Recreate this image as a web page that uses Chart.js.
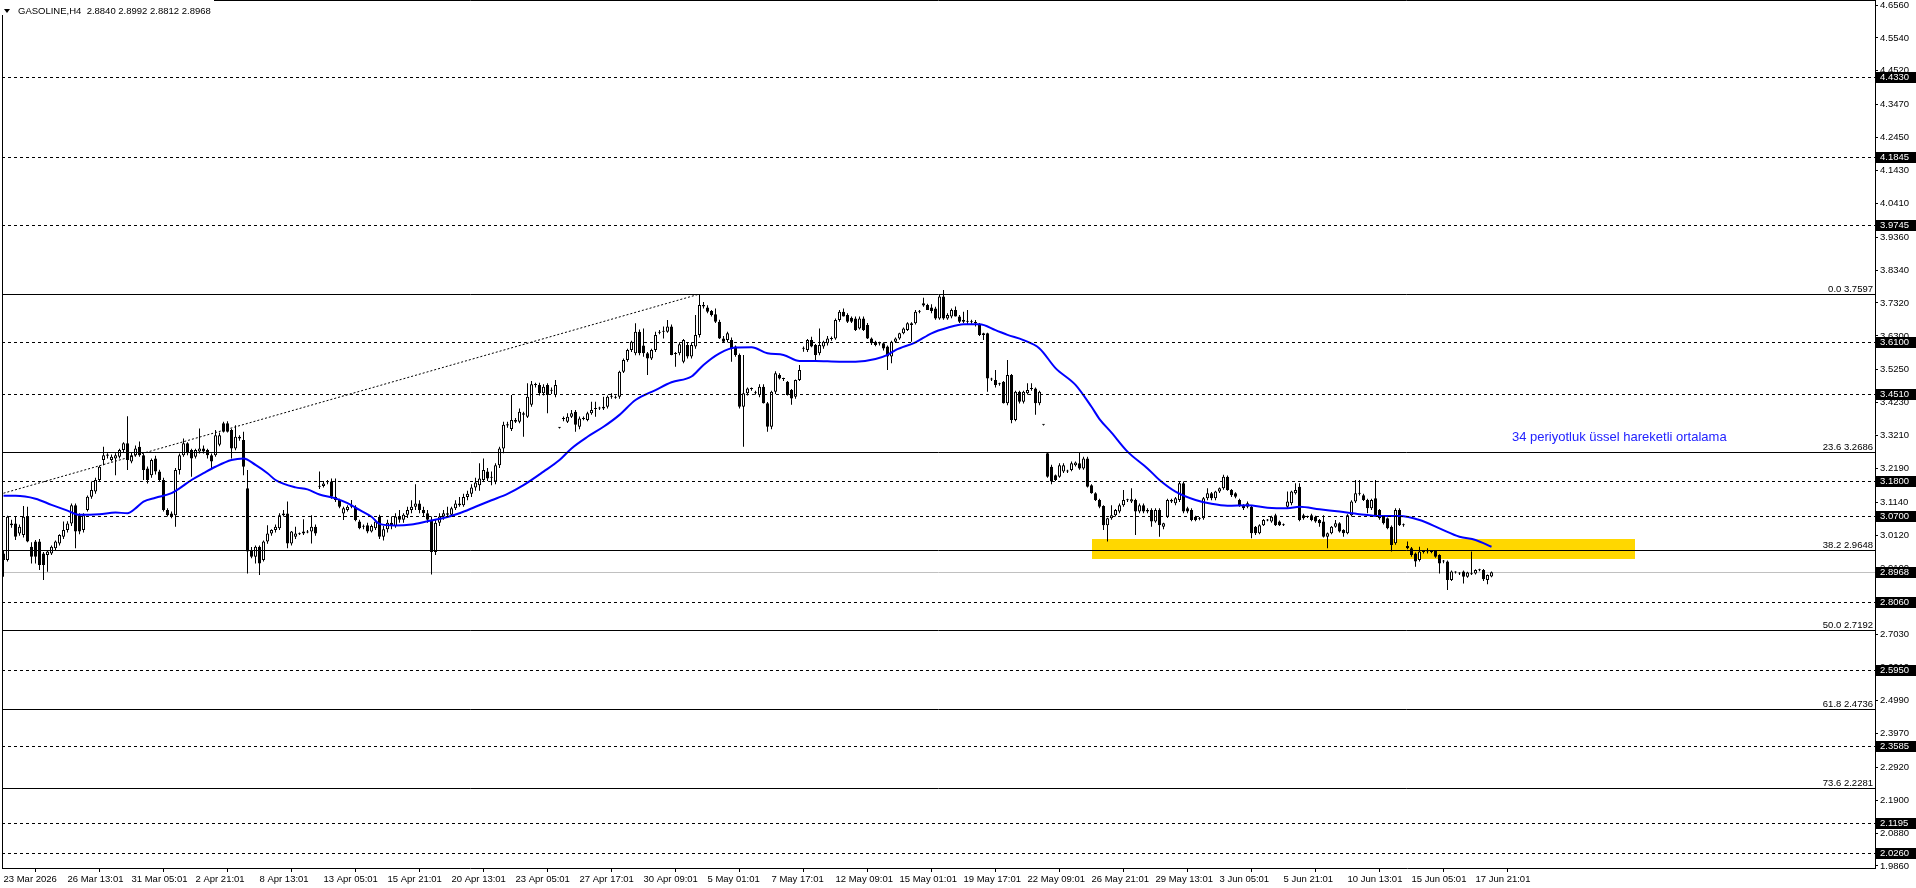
<!DOCTYPE html>
<html><head><meta charset="utf-8">
<script src="https://cdn.jsdelivr.net/npm/chart.js@4/dist/chart.umd.min.js"></script>
<style>html,body{margin:0;padding:0;background:#fff;overflow:hidden}#wrap{width:1916px;height:888px;position:relative}canvas{display:block}</style>
</head><body><div id="wrap"><canvas id="c" width="1916" height="888"></canvas></div>
<script>
// ---------------- DATA ----------------
const headerText = 'GASOLINE,H4  2.8840 2.8992 2.8812 2.8968';
const emaNote = '34 periyotluk üssel hareketli ortalama';
const dateLabels = ['23 Mar 2026','26 Mar 13:01','31 Mar 05:01','2 Apr 21:01','8 Apr 13:01','13 Apr 05:01','15 Apr 21:01','20 Apr 13:01','23 Apr 05:01','27 Apr 17:01','30 Apr 09:01','5 May 01:01','7 May 17:01','12 May 09:01','15 May 01:01','19 May 17:01','22 May 09:01','26 May 21:01','29 May 13:01','3 Jun 05:01','5 Jun 21:01','10 Jun 13:01','15 Jun 05:01','17 Jun 21:01'];
const dateLabelBars = [0,16,32,48,64,80,96,112,128,144,160,176,192,208,224,240,256,272,288,304,320,336,352,368];
const priceTicks = [4.6560,4.5540,4.4520,4.3470,4.2450,4.1430,4.0410,3.9360,3.8340,3.7320,3.6300,3.5250,3.4230,3.3210,3.2190,3.1140,3.0120,2.9100,2.8060,2.7030,2.6010,2.4990,2.3970,2.2920,2.1900,2.0880,1.9860];
const priceMin = 1.9795, priceMax = 4.6718;
const barMin = -0.375, barMax = 467.875;

const open = [
2.955,2.935,3.043,3.048,3.017,3.012,3.069,2.976,2.992,2.992,
2.955,2.950,2.955,2.971,2.986,3.007,3.028,3.048,3.105,3.074,
3.028,3.090,3.131,3.147,3.183,3.245,3.258,3.245,3.250,3.255,
3.276,3.297,3.240,3.260,3.286,3.260,3.219,3.198,3.250,3.209,
3.183,3.090,3.079,3.074,3.214,3.260,3.297,3.276,3.255,3.271,
3.281,3.276,3.260,3.260,3.292,3.359,3.359,3.338,3.281,3.312,
3.307,3.157,2.966,2.945,2.976,2.935,2.992,3.017,3.028,3.033,
3.074,3.079,2.986,3.007,3.017,3.017,3.023,3.023,3.038,3.162,
3.164,3.176,3.178,3.131,3.121,3.079,3.090,3.105,3.100,3.054,
3.040,3.043,3.023,3.033,3.069,3.007,3.030,3.050,3.040,3.070,
3.060,3.075,3.090,3.100,3.110,3.090,3.080,3.060,2.960,3.050,
3.070,3.080,3.075,3.095,3.110,3.105,3.130,3.140,3.160,3.167,
3.183,3.209,3.190,3.178,3.229,3.281,3.352,3.341,3.369,3.364,
3.385,3.379,3.416,3.478,3.478,3.452,3.478,3.460,3.447,3.345,
3.372,3.364,3.379,3.395,3.348,3.372,3.369,3.390,3.403,3.405,
3.405,3.410,3.441,3.440,3.441,3.519,3.555,3.586,3.576,3.643,
3.600,3.576,3.560,3.586,3.640,3.643,3.643,3.659,3.574,3.576,
3.550,3.602,3.566,3.597,3.633,3.721,3.718,3.707,3.697,3.674,
3.622,3.617,3.617,3.597,3.571,3.410,3.452,3.465,3.455,3.447,
3.472,3.421,3.348,3.457,3.509,3.497,3.488,3.462,3.441,3.493,
3.591,3.586,3.617,3.602,3.576,3.597,3.607,3.620,3.622,3.679,
3.705,3.695,3.686,3.684,3.653,3.684,3.664,3.622,3.612,3.607,
3.607,3.597,3.566,3.612,3.622,3.638,3.648,3.664,3.669,3.705,
3.731,3.726,3.718,3.715,3.684,3.752,3.684,3.690,3.710,3.690,
3.679,3.675,3.672,3.672,3.664,3.638,3.638,3.497,3.493,3.481,
3.488,3.421,3.509,3.369,3.457,3.426,3.452,3.465,3.467,3.421,
3.354,3.266,3.224,3.198,3.193,3.209,3.212,3.214,3.229,3.235,
3.219,3.250,3.167,3.142,3.121,3.102,3.043,3.064,3.074,3.085,
3.105,3.120,3.116,3.121,3.085,3.105,3.090,3.090,3.054,3.090,
3.038,3.069,3.116,3.111,3.121,3.173,3.095,3.090,3.069,3.063,
3.064,3.126,3.142,3.126,3.147,3.157,3.193,3.152,3.142,3.121,
3.105,3.100,3.100,3.038,3.018,3.043,3.057,3.054,3.074,3.054,
3.045,3.100,3.111,3.142,3.162,3.074,3.068,3.074,3.069,3.059,
3.054,3.007,3.018,3.038,3.049,3.028,3.018,3.074,3.116,3.140,
3.136,3.121,3.095,3.126,3.090,3.069,3.064,3.038,2.987,3.090,
3.045,2.978,2.971,2.955,2.935,2.960,2.961,2.960,2.963,2.950,
2.932,2.930,2.873,2.897,2.894,2.899,2.883,2.893,2.893,2.903,
2.904,2.873,2.8840];
const high = [
2.965,3.072,3.060,3.069,3.045,3.102,3.100,2.990,2.997,3.000,
2.960,2.965,2.980,2.995,3.015,3.054,3.055,3.110,3.110,3.080,
3.080,3.135,3.178,3.190,3.228,3.286,3.266,3.262,3.266,3.280,
3.300,3.381,3.270,3.290,3.302,3.265,3.225,3.250,3.258,3.215,
3.190,3.095,3.085,3.220,3.265,3.312,3.300,3.280,3.280,3.343,
3.290,3.280,3.265,3.338,3.330,3.364,3.365,3.342,3.353,3.322,
3.333,3.214,2.975,2.980,2.980,2.995,3.043,3.030,3.045,3.080,
3.090,3.116,3.025,3.038,3.020,3.061,3.028,3.074,3.045,3.209,
3.180,3.183,3.188,3.188,3.125,3.100,3.105,3.121,3.105,3.060,
3.045,3.050,3.045,3.060,3.075,3.040,3.060,3.070,3.080,3.090,
3.080,3.100,3.120,3.170,3.120,3.100,3.090,3.070,3.060,3.080,
3.090,3.100,3.100,3.120,3.130,3.140,3.150,3.170,3.190,3.235,
3.250,3.220,3.209,3.235,3.286,3.364,3.364,3.447,3.375,3.405,
3.395,3.483,3.490,3.485,3.485,3.480,3.483,3.470,3.493,3.347,
3.380,3.390,3.400,3.400,3.380,3.380,3.395,3.426,3.426,3.410,
3.441,3.445,3.452,3.445,3.522,3.560,3.590,3.615,3.669,3.650,
3.653,3.580,3.590,3.643,3.648,3.659,3.679,3.665,3.580,3.610,
3.620,3.610,3.610,3.695,3.7597,3.735,3.725,3.710,3.715,3.680,
3.630,3.643,3.625,3.600,3.575,3.571,3.470,3.470,3.460,3.480,
3.480,3.425,3.460,3.520,3.514,3.500,3.490,3.465,3.495,3.540,
3.597,3.620,3.627,3.605,3.653,3.615,3.630,3.628,3.684,3.710,
3.715,3.700,3.690,3.690,3.690,3.690,3.670,3.625,3.615,3.612,
3.610,3.600,3.615,3.625,3.640,3.656,3.672,3.672,3.710,3.710,
3.748,3.730,3.728,3.720,3.757,3.772,3.700,3.715,3.721,3.695,
3.705,3.710,3.680,3.679,3.670,3.640,3.640,3.500,3.524,3.485,
3.490,3.555,3.512,3.460,3.460,3.460,3.483,3.483,3.470,3.460,
3.356,3.270,3.230,3.200,3.235,3.235,3.215,3.240,3.240,3.269,
3.255,3.255,3.170,3.145,3.125,3.105,3.066,3.105,3.093,3.110,
3.152,3.125,3.157,3.125,3.110,3.110,3.095,3.095,3.095,3.095,
3.050,3.125,3.125,3.130,3.178,3.178,3.100,3.095,3.072,3.068,
3.130,3.157,3.146,3.150,3.160,3.199,3.197,3.155,3.145,3.125,
3.108,3.116,3.105,3.040,3.046,3.062,3.062,3.072,3.078,3.057,
3.048,3.147,3.150,3.173,3.173,3.078,3.072,3.078,3.072,3.062,
3.074,3.020,3.040,3.059,3.052,3.030,3.077,3.120,3.183,3.183,
3.140,3.125,3.125,3.183,3.093,3.072,3.067,3.042,3.095,3.095,
3.048,2.992,2.975,2.958,2.976,2.965,2.971,2.965,2.966,2.953,
2.935,2.933,2.902,2.900,2.897,2.902,2.898,2.961,2.906,2.908,
2.907,2.890,2.8992];
const low = [
2.883,2.930,3.035,2.997,3.010,3.005,2.990,2.924,2.924,2.904,
2.873,2.898,2.950,2.965,2.980,3.000,3.020,3.040,2.971,3.015,
3.020,3.085,3.125,3.140,3.178,3.229,3.250,3.240,3.198,3.250,
3.270,3.214,3.235,3.255,3.255,3.183,3.172,3.190,3.200,3.178,
3.085,3.070,3.064,3.038,3.200,3.255,3.260,3.193,3.250,3.265,
3.265,3.250,3.220,3.255,3.288,3.330,3.330,3.250,3.275,3.305,
3.198,2.893,2.940,2.924,2.888,2.930,2.985,3.010,3.020,3.028,
3.070,2.971,2.980,3.000,3.012,3.012,3.018,2.986,3.010,3.155,
3.160,3.170,3.125,3.115,3.095,3.059,3.085,3.095,3.055,3.030,
3.030,3.018,3.020,3.028,3.000,2.995,3.020,3.030,3.035,3.050,
3.050,3.065,3.080,3.090,3.080,3.070,3.050,2.890,2.950,3.040,
3.060,3.070,3.070,3.090,3.100,3.100,3.120,3.130,3.150,3.150,
3.178,3.180,3.167,3.170,3.220,3.266,3.345,3.335,3.360,3.359,
3.317,3.375,3.410,3.470,3.445,3.445,3.390,3.450,3.440,3.343,
3.365,3.360,3.375,3.333,3.340,3.368,3.365,3.385,3.379,3.400,
3.400,3.405,3.435,3.435,3.435,3.515,3.550,3.580,3.570,3.570,
3.565,3.509,3.555,3.580,3.635,3.622,3.640,3.570,3.534,3.570,
3.545,3.560,3.560,3.590,3.625,3.715,3.700,3.690,3.670,3.620,
3.610,3.610,3.550,3.565,3.405,3.286,3.445,3.460,3.448,3.440,
3.420,3.333,3.340,3.450,3.495,3.490,3.445,3.416,3.435,3.490,
3.581,3.580,3.595,3.555,3.570,3.590,3.600,3.615,3.618,3.674,
3.690,3.670,3.670,3.645,3.650,3.645,3.620,3.602,3.598,3.600,
3.585,3.524,3.545,3.608,3.618,3.635,3.645,3.612,3.665,3.700,
3.720,3.710,3.700,3.680,3.680,3.680,3.680,3.685,3.690,3.670,
3.670,3.664,3.668,3.659,3.630,3.617,3.457,3.490,3.470,3.475,
3.420,3.415,3.359,3.365,3.420,3.420,3.448,3.460,3.385,3.415,
3.352,3.190,3.170,3.180,3.190,3.205,3.205,3.210,3.225,3.215,
3.215,3.160,3.140,3.118,3.095,3.028,2.992,3.060,3.070,3.080,
3.100,3.115,3.112,3.012,3.080,3.080,3.080,3.038,3.050,3.007,
3.030,3.065,3.112,3.105,3.115,3.080,3.080,3.055,3.055,3.058,
3.060,3.120,3.120,3.120,3.143,3.153,3.150,3.130,3.126,3.100,
3.090,3.095,3.002,3.012,3.015,3.040,3.055,3.050,3.040,3.040,
3.040,3.095,3.105,3.138,3.055,3.060,3.065,3.055,3.050,3.038,
3.005,2.971,3.015,3.035,3.020,3.007,3.015,3.070,3.112,3.135,
3.118,3.080,3.090,3.070,3.060,3.045,3.030,2.961,2.982,3.040,
3.038,2.968,2.945,2.914,2.930,2.955,2.955,2.956,2.942,2.893,
2.925,2.842,2.870,2.893,2.888,2.862,2.880,2.888,2.890,2.900,
2.870,2.860,2.8812];
const close = [
2.935,3.069,3.048,3.007,3.038,3.069,2.992,2.945,2.945,2.919,
2.919,2.961,2.976,2.992,3.012,3.028,3.048,3.105,3.023,3.023,
3.074,3.131,3.152,3.183,3.224,3.260,3.262,3.255,3.260,3.276,
3.297,3.245,3.260,3.281,3.260,3.214,3.183,3.245,3.209,3.183,
3.090,3.074,3.069,3.214,3.260,3.297,3.266,3.250,3.276,3.281,
3.271,3.260,3.240,3.322,3.322,3.333,3.333,3.281,3.317,3.317,
3.224,2.961,2.945,2.976,2.924,2.992,3.017,3.028,3.038,3.074,
3.079,2.986,3.023,3.017,3.015,3.023,3.020,3.038,3.017,3.164,
3.172,3.178,3.131,3.121,3.100,3.095,3.100,3.100,3.059,3.033,
3.038,3.023,3.040,3.054,3.007,3.030,3.050,3.040,3.070,3.060,
3.075,3.090,3.100,3.110,3.090,3.080,3.060,2.960,3.050,3.070,
3.080,3.075,3.095,3.110,3.105,3.130,3.140,3.160,3.175,3.188,
3.214,3.188,3.193,3.229,3.281,3.354,3.356,3.369,3.364,3.395,
3.390,3.441,3.480,3.480,3.452,3.472,3.447,3.462,3.478,3.345,
3.374,3.379,3.390,3.354,3.374,3.374,3.390,3.400,3.405,3.406,
3.410,3.441,3.443,3.438,3.519,3.555,3.586,3.612,3.643,3.576,
3.576,3.560,3.586,3.633,3.643,3.645,3.659,3.571,3.576,3.604,
3.617,3.566,3.602,3.633,3.726,3.726,3.705,3.695,3.674,3.622,
3.612,3.638,3.591,3.571,3.410,3.452,3.467,3.467,3.452,3.472,
3.421,3.348,3.457,3.514,3.498,3.496,3.447,3.436,3.493,3.524,
3.590,3.617,3.597,3.571,3.602,3.612,3.622,3.622,3.679,3.705,
3.690,3.674,3.674,3.648,3.684,3.648,3.622,3.607,3.602,3.606,
3.591,3.566,3.612,3.622,3.638,3.653,3.669,3.669,3.705,3.706,
3.724,3.710,3.707,3.684,3.752,3.684,3.695,3.710,3.690,3.674,
3.674,3.674,3.672,3.670,3.633,3.633,3.498,3.495,3.478,3.480,
3.421,3.509,3.369,3.457,3.426,3.457,3.462,3.467,3.421,3.457,
3.354,3.193,3.178,3.183,3.229,3.229,3.209,3.235,3.237,3.219,
3.250,3.162,3.142,3.121,3.100,3.043,3.064,3.074,3.090,3.105,
3.121,3.121,3.123,3.085,3.105,3.085,3.085,3.054,3.090,3.043,
3.049,3.121,3.121,3.126,3.173,3.085,3.085,3.059,3.059,3.064,
3.126,3.142,3.126,3.147,3.157,3.193,3.152,3.136,3.131,3.105,
3.095,3.111,3.018,3.018,3.043,3.059,3.059,3.069,3.043,3.043,
3.043,3.116,3.147,3.152,3.059,3.064,3.069,3.059,3.054,3.049,
3.007,3.018,3.038,3.049,3.023,3.018,3.074,3.116,3.142,3.142,
3.121,3.095,3.121,3.074,3.064,3.049,3.033,2.981,3.090,3.043,
3.043,2.971,2.950,2.930,2.961,2.961,2.962,2.961,2.945,2.924,
2.930,2.873,2.899,2.896,2.893,2.883,2.896,2.891,2.904,2.904,
2.875,2.888,2.8968];

const emaBars = [0,3,8,12,16,19,24,28,31,33,35,38,42,44,47,50,53,57,60,63,66,68,73,76,79,83,86,89,92,94,98,102,106,110,114,118,122,126,130,135,139,142,146,150,154,158,163,167,172,175,179,183,187,191,195,199,203,209,213,218,221,223,228,232,236,240,244,248,251,255,259,263,268,272,274,277,281,286,289,293,298,302,306,311,316,321,324,329,334,339,344,349,354,359,364,368,372];
const emaValues = [3.134,3.134,3.125,3.106,3.088,3.075,3.077,3.082,3.080,3.095,3.116,3.128,3.142,3.157,3.183,3.204,3.224,3.245,3.250,3.230,3.204,3.183,3.160,3.154,3.138,3.126,3.111,3.090,3.069,3.047,3.042,3.045,3.055,3.065,3.080,3.100,3.120,3.140,3.167,3.209,3.245,3.281,3.317,3.348,3.385,3.431,3.462,3.486,3.504,3.540,3.576,3.594,3.595,3.576,3.571,3.552,3.552,3.550,3.550,3.558,3.571,3.586,3.610,3.638,3.655,3.666,3.666,3.648,3.633,3.617,3.591,3.530,3.478,3.410,3.372,3.330,3.271,3.219,3.183,3.147,3.121,3.109,3.103,3.105,3.097,3.095,3.100,3.092,3.085,3.077,3.071,3.071,3.059,3.033,3.007,2.997,2.976];

const fibLevels = [3.7597,3.2686,2.9648,2.7192,2.4736,2.2281];
const fibNames = ['0.0','23.6','38.2','50.0','61.8','73.6'];
const levelLines = [4.4330,4.1845,3.9745,3.6100,3.4510,3.1800,3.0700,2.8060,2.5950,2.3585,2.1195,2.0260];
const bidPrice = 2.8968;
const trendBars = [0,174];
const trendPrices = [3.142,3.7597];
const zoneBars = [272,407.75];
const zonePrices = [2.939,3.001];

// ---------------- CHART ----------------
const FONT = 'Liberation Sans, Arial, sans-serif';
const idx = open.map((_, i) => i);
const wickData = idx.map(i => ({x: i, y: [low[i], high[i]]}));
const bodyData = idx.map(i => ({x: i, y: [open[i], close[i]]}));
const bodyColors = idx.map(i => close[i] >= open[i] ? '#ffffff' : '#000000');
const emaData = emaBars.map((b, k) => ({x: b, y: emaValues[k]}));
const trendData = trendBars.map((b, k) => ({x: b, y: trendPrices[k]}));

const decor = {
  id: 'decor',
  beforeDraw(chart) {
    const c = chart.ctx; c.save(); c.fillStyle = '#fff'; c.fillRect(0, 0, chart.width, chart.height); c.restore();
  },
  beforeDatasetsDraw(chart) {
    const {ctx, chartArea: a, scales: {x, y}} = chart;
    ctx.save();
    const x0 = Math.round(x.getPixelForValue(zoneBars[0])), x1 = Math.round(x.getPixelForValue(zoneBars[1]));
    const y0 = Math.round(y.getPixelForValue(zonePrices[1])), y1 = Math.round(y.getPixelForValue(zonePrices[0]));
    ctx.fillStyle = '#FFD700';
    ctx.fillRect(x0, y0, x1 - x0, y1 - y0);
    // bid line
    const by = Math.round(y.getPixelForValue(bidPrice)) + 0.5;
    ctx.strokeStyle = '#c0c0c0'; ctx.lineWidth = 1;
    ctx.beginPath(); ctx.moveTo(a.left, by); ctx.lineTo(a.right, by); ctx.stroke();
    ctx.restore();
  },
  afterDatasetsDraw(chart) {
    const {ctx, chartArea: a, scales: {y}} = chart;
    ctx.save();
    ctx.lineWidth = 1; ctx.strokeStyle = '#000';
    ctx.setLineDash([3, 3]);
    for (const v of levelLines) {
      const py = Math.round(y.getPixelForValue(v)) + 0.5;
      ctx.beginPath(); ctx.moveTo(a.left, py); ctx.lineTo(a.right, py); ctx.stroke();
    }
    ctx.setLineDash([]);
    ctx.font = '9.5px ' + FONT; ctx.fillStyle = '#000'; ctx.textAlign = 'right'; ctx.textBaseline = 'alphabetic';
    fibLevels.forEach((v, k) => {
      const py = Math.round(y.getPixelForValue(v)) + 0.5;
      ctx.beginPath(); ctx.moveTo(a.left, py); ctx.lineTo(a.right, py); ctx.stroke();
      ctx.fillText(fibNames[k] + ' ' + v.toFixed(4), a.right - 2, py - 2.5);
    });
    // borders left/top
    ctx.beginPath(); ctx.moveTo(a.left + 0.5, a.top); ctx.lineTo(a.left + 0.5, a.bottom); ctx.stroke();
    ctx.beginPath(); ctx.moveTo(a.left, a.top + 0.5); ctx.lineTo(a.right, a.top + 0.5); ctx.stroke();
    // note
    ctx.font = '13px ' + FONT; ctx.fillStyle = '#2222ff'; ctx.textAlign = 'left'; ctx.textBaseline = 'middle';
    ctx.fillText(emaNote, 1512, 437);
    ctx.restore();
  },
  afterDraw(chart) {
    const {ctx, chartArea: a, scales: {y}} = chart;
    ctx.save();
    ctx.font = '9.5px ' + FONT; ctx.textAlign = 'left'; ctx.textBaseline = 'middle';
    for (const v of [...levelLines, bidPrice]) {
      const py = Math.round(y.getPixelForValue(v));
      ctx.fillStyle = '#000'; ctx.fillRect(a.right + 1, py - 5, chart.width - a.right - 1, 11);
      ctx.fillStyle = '#fff'; ctx.fillText(v.toFixed(4), a.right + 5, py + 0.5);
    }
    // header
    ctx.fillStyle = '#fff'; ctx.fillRect(0, 0, 214, 15);
    ctx.fillStyle = '#000';
    ctx.beginPath(); ctx.moveTo(4, 9); ctx.lineTo(10, 9); ctx.lineTo(7, 13); ctx.closePath(); ctx.fill();
    ctx.textBaseline = 'alphabetic';
    ctx.fillText(headerText, 18, 14);
    ctx.restore();
  }
};

new Chart(document.getElementById('c'), {
  type: 'bar',
  data: {
    datasets: [
      {type: 'line', label: 'EMA34', data: emaData, borderColor: '#0000ff', borderWidth: 2, pointRadius: 0, tension: 0.35, cubicInterpolationMode: 'monotone', order: 1},
      {type: 'line', label: 'trend', data: trendData, borderColor: '#000', borderWidth: 1, borderDash: [2, 2], pointRadius: 0, order: 0},
      {type: 'bar', label: 'body', data: bodyData, barThickness: 3, backgroundColor: bodyColors, borderColor: '#000', borderWidth: 1, borderSkipped: false, grouped: false, minBarLength: 1, inflateAmount: 0, order: 2},
      {type: 'bar', label: 'wick', data: wickData, barThickness: 1, backgroundColor: '#000', borderWidth: 0, grouped: false, minBarLength: 1, inflateAmount: 0, order: 3}
    ]
  },
  options: {
    responsive: false, animation: false, devicePixelRatio: 1, events: [],
    layout: {padding: {left: 2, top: 0, right: 0, bottom: 0}},
    plugins: {legend: {display: false}, tooltip: {enabled: false}},
    scales: {
      x: {
        type: 'linear', min: barMin, max: barMax, bounds: 'data', offset: false,
        afterBuildTicks: s => { s.ticks = dateLabelBars.map(v => ({value: v})); },
        afterFit: s => { s.height = 20; s.paddingLeft = 0; s.paddingRight = 0; },
        grid: {drawOnChartArea: false, drawTicks: true, tickLength: 4, color: '#000', tickColor: '#000'},
        border: {display: true, color: '#000', width: 1},
        ticks: {align: 'start', autoSkip: false, maxRotation: 0, minRotation: 0, padding: 2, color: '#000', font: {family: FONT, size: 9.5}, callback: (v, i) => dateLabels[i]}
      },
      y: {
        type: 'linear', position: 'right', min: priceMin, max: priceMax, bounds: 'data',
        afterBuildTicks: s => { s.ticks = priceTicks.map(v => ({value: v})); },
        afterFit: s => { s.width = 41; s.paddingTop = 0; s.paddingBottom = 0; },
        grid: {drawOnChartArea: false, drawTicks: true, tickLength: 3, color: '#000', tickColor: '#000'},
        border: {display: true, color: '#000', width: 1},
        ticks: {autoSkip: false, padding: 2, color: '#000', font: {family: FONT, size: 9.5}, callback: v => Number(v).toFixed(4)}
      }
    }
  },
  plugins: [decor]
});
</script>
</body></html>
